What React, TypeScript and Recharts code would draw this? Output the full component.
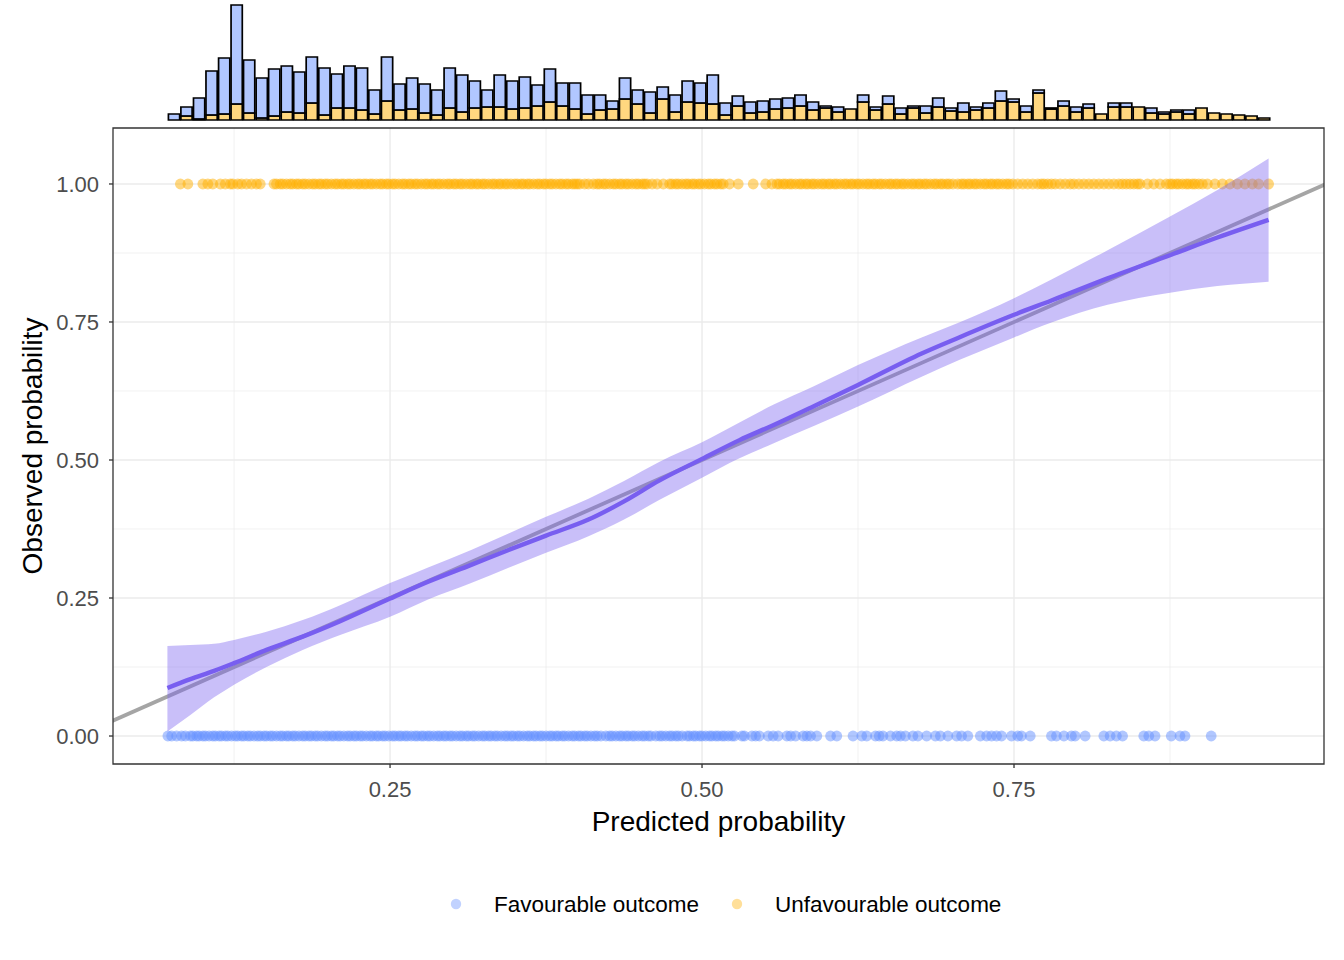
import React from "react";
import {
  BarChart,
  Bar,
  ComposedChart,
  Area,
  Line,
  Scatter,
  XAxis,
  YAxis,
  ReferenceLine,
  ReferenceArea,
  Legend,
  Label,
} from "recharts";

const FAV = "#648FFF";
const UNFAV = "#FFB000";
const CAL = "#785EF0";
const DIAG = "#A5A5A5";
const GRID = "#EBEBEB";
const FONT = "'Liberation Sans', Arial, sans-serif";

const X_DOMAIN: [number, number] = [0.028, 0.9984];
const Y_DOMAIN: [number, number] = [-0.0507, 1.1014];

const xTicks = [0.25, 0.5, 0.75];
const yTicks = [0, 0.25, 0.5, 0.75, 1];
const xMinor = [0.125, 0.375, 0.625, 0.875];
const yMinor = [0.125, 0.375, 0.625, 0.875];

// marginal histogram (bin centres and stacked counts)
const histBins = [
  0.0766, 0.0866, 0.0967, 0.1067, 0.1168, 0.1268, 0.1368, 0.1469, 0.1569, 0.167,
  0.177, 0.187, 0.1971, 0.2071, 0.2172, 0.2272, 0.2372, 0.2473, 0.2573, 0.2674,
  0.2774, 0.2874, 0.2975, 0.3075, 0.3176, 0.3276, 0.3376, 0.3477, 0.3577, 0.3678,
  0.3778, 0.3878, 0.3979, 0.4079, 0.418, 0.428, 0.438, 0.4481, 0.4581, 0.4682,
  0.4782, 0.4882, 0.4983, 0.5083, 0.5184, 0.5284, 0.5384, 0.5485, 0.5585, 0.5686,
  0.5786, 0.5886, 0.5987, 0.6087, 0.6188, 0.6288, 0.6388, 0.6489, 0.6589, 0.669,
  0.679, 0.689, 0.6991, 0.7091, 0.7192, 0.7292, 0.7392, 0.7493, 0.7593, 0.7694,
  0.7794, 0.7894, 0.7995, 0.8095, 0.8196, 0.8296, 0.8396, 0.8497, 0.8597, 0.8698,
  0.8798, 0.8898, 0.8999, 0.9099, 0.92, 0.93, 0.94, 0.9501,
];
const histFav = [
  6, 9, 21, 44, 56, 99, 53, 40, 47, 46,
  41, 46, 47, 34, 42, 42, 24, 44, 26, 31,
  29, 25, 40, 37, 27, 17, 32, 28, 31, 21,
  33, 23, 26, 19, 15, 8, 21, 14, 21, 12,
  17, 21, 20, 29, 12, 10, 11, 11, 10, 10,
  11, 8, 2, 5, 0, 7, 3, 8, 6, 2,
  7, 9, 3, 9, 3, 5, 10, 3, 6, 3,
  1, 5, 5, 4, 0, 4, 4, 0, 5, 2,
  2, 4, 0, 0, 0, 0, 0, 0,
];
const histUnfav = [
  0, 4, 1, 5, 6, 16, 7, 2, 4, 8,
  7, 17, 5, 12, 12, 10, 6, 19, 10, 11,
  7, 5, 12, 8, 12, 13, 13, 11, 12, 14,
  18, 14, 11, 6, 10, 11, 21, 16, 7, 21,
  8, 18, 17, 16, 5, 14, 7, 8, 11, 12,
  14, 10, 12, 8, 11, 18, 10, 16, 6, 12,
  7, 13, 9, 8, 10, 12, 19, 18, 8, 27,
  11, 14, 8, 12, 6, 13, 13, 13, 7, 6,
  8, 6, 12, 7, 6, 5, 4, 2,
];

// predicted probabilities of the individual patients
const favPred = [
  0.072, 0.075, 0.079, 0.083, 0.086,
  0.09, 0.092, 0.095, 0.097, 0.1, 0.102, 0.105, 0.108, 0.11, 0.113, 0.115, 0.118, 0.12,
  0.123, 0.126, 0.128, 0.131, 0.133, 0.136, 0.138, 0.141, 0.144, 0.146, 0.149, 0.151,
  0.154, 0.156, 0.159, 0.162, 0.164, 0.167, 0.169, 0.172, 0.174, 0.177, 0.18, 0.182,
  0.185, 0.187, 0.19, 0.192, 0.195, 0.198, 0.2, 0.203, 0.205, 0.208, 0.21, 0.213,
  0.216, 0.218, 0.221, 0.223, 0.226, 0.228, 0.231, 0.234, 0.236, 0.239, 0.241, 0.244,
  0.246, 0.249, 0.252, 0.254, 0.257, 0.259, 0.262, 0.264, 0.267, 0.27, 0.272, 0.275,
  0.277, 0.28, 0.282, 0.285, 0.288, 0.29, 0.293, 0.295, 0.298, 0.3, 0.303, 0.306,
  0.308, 0.311, 0.313, 0.316, 0.318, 0.321, 0.324, 0.326, 0.329, 0.331, 0.334, 0.336,
  0.339, 0.342, 0.344, 0.347, 0.349, 0.352, 0.354, 0.357, 0.36, 0.362, 0.365, 0.367,
  0.37, 0.372, 0.375, 0.378, 0.38, 0.383, 0.385, 0.388, 0.39, 0.393, 0.396, 0.398,
  0.401, 0.403, 0.406, 0.408, 0.411, 0.414, 0.416, 0.419, 0.423, 0.426, 0.428, 0.431,
  0.434, 0.436, 0.439, 0.441, 0.444, 0.446, 0.449, 0.452, 0.454, 0.457, 0.459, 0.463,
  0.466, 0.468, 0.471, 0.474, 0.476, 0.479, 0.481, 0.484, 0.488, 0.49, 0.493, 0.495,
  0.498, 0.5, 0.503, 0.506, 0.508, 0.511, 0.513, 0.516, 0.518, 0.521, 0.524, 0.526,
  0.532, 0.534, 0.54, 0.543, 0.546, 0.553, 0.557, 0.561, 0.568, 0.571, 0.575, 0.581,
  0.584, 0.587, 0.592, 0.603, 0.608, 0.621, 0.628, 0.632, 0.639, 0.642, 0.645, 0.651,
  0.656, 0.659, 0.663, 0.669, 0.673, 0.68, 0.687, 0.691, 0.697, 0.704, 0.708, 0.713,
  0.723, 0.728, 0.732, 0.736, 0.74, 0.748, 0.753, 0.756, 0.763, 0.78, 0.784, 0.79,
  0.796, 0.799, 0.807, 0.822, 0.827, 0.832, 0.837, 0.854, 0.858, 0.863, 0.876, 0.883,
  0.887, 0.908,
];
const unfavPred = [
  0.082, 0.088, 0.1, 0.104, 0.108, 0.114, 0.118, 0.122, 0.124, 0.128, 0.131, 0.135,
  0.139, 0.143, 0.146,
  0.157, 0.159, 0.162, 0.164, 0.167, 0.17, 0.172, 0.175, 0.177, 0.18, 0.182, 0.185,
  0.188, 0.19, 0.193, 0.195, 0.198, 0.2, 0.203, 0.206, 0.208, 0.211, 0.213, 0.216,
  0.218, 0.221, 0.224, 0.226, 0.229, 0.231, 0.234, 0.236, 0.239, 0.242, 0.244, 0.247,
  0.249, 0.252, 0.254, 0.257, 0.26, 0.262, 0.265, 0.267, 0.27, 0.272, 0.275, 0.278,
  0.28, 0.283, 0.285, 0.288, 0.29, 0.293, 0.296, 0.298, 0.301, 0.303, 0.306, 0.308,
  0.311, 0.314, 0.316, 0.319, 0.321, 0.324, 0.326, 0.329, 0.332, 0.334, 0.337, 0.339,
  0.342, 0.344, 0.347, 0.35, 0.352, 0.355, 0.357, 0.36, 0.362, 0.365, 0.368, 0.37,
  0.373, 0.375, 0.378, 0.38, 0.383, 0.386, 0.388, 0.391, 0.393, 0.396, 0.398, 0.4,
  0.402, 0.406, 0.409,
  0.413, 0.416, 0.418, 0.421, 0.423, 0.426, 0.429, 0.431, 0.434, 0.436, 0.439, 0.441,
  0.444, 0.447, 0.449, 0.452, 0.454, 0.456, 0.46, 0.464, 0.469,
  0.474, 0.476, 0.479, 0.481, 0.484, 0.487, 0.489, 0.492, 0.494, 0.497, 0.499, 0.502,
  0.505, 0.507, 0.51, 0.512, 0.515, 0.517, 0.522, 0.529, 0.541, 0.551, 0.556, 0.56,
  0.562, 0.565, 0.567, 0.57, 0.572, 0.575, 0.578, 0.58, 0.583, 0.585, 0.588, 0.59,
  0.593, 0.596, 0.598, 0.601, 0.603, 0.606, 0.608, 0.611, 0.614, 0.616, 0.619, 0.621,
  0.624, 0.626, 0.629, 0.632, 0.634, 0.637, 0.639, 0.642, 0.644, 0.647, 0.65, 0.652,
  0.655, 0.657, 0.66, 0.662, 0.665, 0.668, 0.67, 0.673, 0.675, 0.678, 0.68, 0.683,
  0.686, 0.688, 0.691, 0.693, 0.696, 0.698, 0.701,
  0.705, 0.708, 0.71, 0.713, 0.715, 0.718, 0.72, 0.723, 0.726, 0.728, 0.731, 0.733,
  0.736, 0.738, 0.741, 0.744, 0.746, 0.749, 0.753, 0.757, 0.761, 0.765, 0.769, 0.772,
  0.774, 0.777, 0.78, 0.783, 0.787, 0.791, 0.795, 0.798, 0.802, 0.806, 0.81, 0.814,
  0.818, 0.822, 0.826, 0.83, 0.834, 0.837, 0.84, 0.843, 0.846, 0.849, 0.851,
  0.857, 0.862, 0.867, 0.872,
  0.875, 0.877, 0.88, 0.882, 0.885, 0.888, 0.89, 0.893, 0.895, 0.898, 0.901,
  0.905, 0.911, 0.917, 0.923, 0.929, 0.935, 0.941, 0.946, 0.954,
];

// smoothed calibration curve with confidence band
const calPred = [
  0.0716, 0.09, 0.109, 0.125, 0.151, 0.18, 0.21, 0.25, 0.28, 0.315, 0.345, 0.375,
  0.409, 0.4375, 0.466, 0.5, 0.53, 0.557, 0.59, 0.625, 0.676, 0.706, 0.75, 0.78,
  0.825, 0.875, 0.913, 0.954,
];
const calObs = [
  0.087, 0.103, 0.118, 0.132, 0.156, 0.18, 0.208, 0.249, 0.279, 0.31, 0.337, 0.363,
  0.392, 0.425, 0.463, 0.502, 0.536, 0.563, 0.598, 0.636, 0.693, 0.722, 0.763, 0.789,
  0.829, 0.871, 0.903, 0.935,
];
const calLower = [
  0.008, 0.038, 0.07, 0.093, 0.125, 0.156, 0.183, 0.216, 0.247, 0.277, 0.305, 0.332,
  0.362, 0.392, 0.428, 0.468, 0.503, 0.53, 0.562, 0.597, 0.651, 0.681, 0.722, 0.749,
  0.781, 0.803, 0.815, 0.823,
];
const calUpper = [
  0.163, 0.165, 0.167, 0.174, 0.189, 0.21, 0.237, 0.277, 0.305, 0.337, 0.367, 0.397,
  0.43, 0.462, 0.497, 0.532, 0.568, 0.6, 0.634, 0.672, 0.722, 0.749, 0.793, 0.827,
  0.88, 0.941, 0.989, 1.046,
];

const diagonal = [
  { x: 0, y: 0 },
  { x: 1, y: 1 },
];

const legendItems = [
  { label: "Favourable outcome", color: FAV },
  { label: "Unfavourable outcome", color: UNFAV },
];

const histData = histBins.map((x, i) => ({
  x,
  fav: histFav[i],
  unfav: histUnfav[i],
}));
const favPoints = favPred.map((x) => ({ x, y: 0 }));
const unfavPoints = unfavPred.map((x) => ({ x, y: 1 }));
const calData = calPred.map((x, i) => ({
  x,
  obs: calObs[i],
  band: [calLower[i], calUpper[i]],
}));

const fmt2 = (v: number) => v.toFixed(2);

function pointShape(color: string) {
  return (props: any) => (
    <circle cx={props.cx} cy={props.cy} r={5.4} fill={color} fillOpacity={0.5} />
  );
}

function LegendKeys() {
  const pos = [36, 317];
  return (
    <svg width={620} height={30} style={{ display: "block" }}>
      {legendItems.map((item, i) => (
        <g key={item.label}>
          <circle cx={pos[i]} cy={15} r={5.2} fill={item.color} fillOpacity={0.4} />
          <text
            x={pos[i] + 38}
            y={15}
            dominantBaseline="central"
            fontSize={22.5}
            fontFamily={FONT}
            fill="#000"
          >
            {item.label}
          </text>
        </g>
      ))}
    </svg>
  );
}

const tickStyle = { fill: "#4D4D4D", fontSize: 22, fontFamily: FONT };
const tickLine = { stroke: "#333333", strokeWidth: 1.3 };

export default function App() {
  return (
    <div
      style={{
        position: "absolute",
        left: 0,
        top: 0,
        width: 1344,
        height: 960,
        background: "#fff",
      }}
    >
      <div style={{ position: "absolute", left: 0, top: 0 }}>
        <BarChart
          width={1344}
          height={124}
          data={histData}
          margin={{ top: 0, right: 20, bottom: 4, left: 113 }}
        >
          <XAxis type="number" dataKey="x" domain={X_DOMAIN} hide />
          <YAxis type="number" domain={[0, 120]} hide />
          <Bar
            dataKey="unfav"
            stackId="h"
            fill={UNFAV}
            fillOpacity={0.5}
            stroke="#000"
            strokeWidth={1.7}
            barSize={12.5}
            isAnimationActive={false}
          />
          <Bar
            dataKey="fav"
            stackId="h"
            fill={FAV}
            fillOpacity={0.5}
            stroke="#000"
            strokeWidth={1.7}
            barSize={12.5}
            isAnimationActive={false}
          />
        </BarChart>
      </div>

      <div style={{ position: "absolute", left: 0, top: 0 }}>
        <ComposedChart
          width={1344}
          height={960}
          margin={{ top: 128, right: 20, bottom: 156, left: 53 }}
        >
          <XAxis
            type="number"
            dataKey="x"
            domain={X_DOMAIN}
            ticks={xTicks}
            tickFormatter={fmt2}
            tick={tickStyle}
            tickLine={tickLine}
            tickSize={4}
            tickMargin={13}
            axisLine={false}
            height={40}
            allowDataOverflow
          >
            <Label
              value="Predicted probability"
              position="bottom"
              offset={7}
              fontSize={28}
              fontFamily={FONT}
              fill="#000"
            />
          </XAxis>
          <YAxis
            type="number"
            dataKey="y"
            domain={Y_DOMAIN}
            ticks={yTicks}
            tickFormatter={fmt2}
            tick={tickStyle}
            tickLine={tickLine}
            tickSize={4}
            tickMargin={10}
            axisLine={false}
            width={60}
            allowDataOverflow
          >
            <Label
              value="Observed probability"
              position="left"
              angle={-90}
              offset={21}
              fontSize={28}
              fontFamily={FONT}
              fill="#000"
              style={{ textAnchor: "middle" }}
            />
          </YAxis>

          {yMinor.map((v) => (
            <ReferenceLine key={`ym${v}`} y={v} stroke={GRID} strokeWidth={0.7} zIndex={-60} />
          ))}
          {xMinor.map((v) => (
            <ReferenceLine key={`xm${v}`} x={v} stroke={GRID} strokeWidth={0.7} zIndex={-60} />
          ))}
          {yTicks.map((v) => (
            <ReferenceLine key={`yM${v}`} y={v} stroke={GRID} strokeWidth={1.4} zIndex={-50} />
          ))}
          {xTicks.map((v) => (
            <ReferenceLine key={`xM${v}`} x={v} stroke={GRID} strokeWidth={1.4} zIndex={-50} />
          ))}

          <Scatter
            name="Favourable outcome"
            data={favPoints}
            shape={pointShape(FAV)}
            isAnimationActive={false}
            zIndex={100}
          />
          <Scatter
            name="Unfavourable outcome"
            data={unfavPoints}
            shape={pointShape(UNFAV)}
            isAnimationActive={false}
            zIndex={100}
          />

          <ReferenceLine
            segment={diagonal}
            stroke={DIAG}
            strokeWidth={3.8}
            ifOverflow="hidden"
            zIndex={150}
          />

          <Area
            data={calData}
            dataKey="band"
            type="monotone"
            fill={CAL}
            fillOpacity={0.4}
            stroke="none"
            isAnimationActive={false}
            zIndex={200}
          />
          <Line
            data={calData}
            dataKey="obs"
            type="monotone"
            stroke={CAL}
            strokeWidth={4.4}
            dot={false}
            activeDot={false}
            isAnimationActive={false}
            zIndex={300}
          />

          <ReferenceArea
            x1={X_DOMAIN[0]}
            x2={X_DOMAIN[1]}
            y1={Y_DOMAIN[0]}
            y2={Y_DOMAIN[1]}
            fill="none"
            stroke="#333333"
            strokeWidth={1.3}
            ifOverflow="visible"
            zIndex={450}
          />

          <Legend
            layout="horizontal"
            verticalAlign="middle"
            align="center"
            wrapperStyle={{ top: 889, left: 420, width: 620, height: 30 }}
            content={() => <LegendKeys />}
          />
        </ComposedChart>
      </div>
    </div>
  );
}
